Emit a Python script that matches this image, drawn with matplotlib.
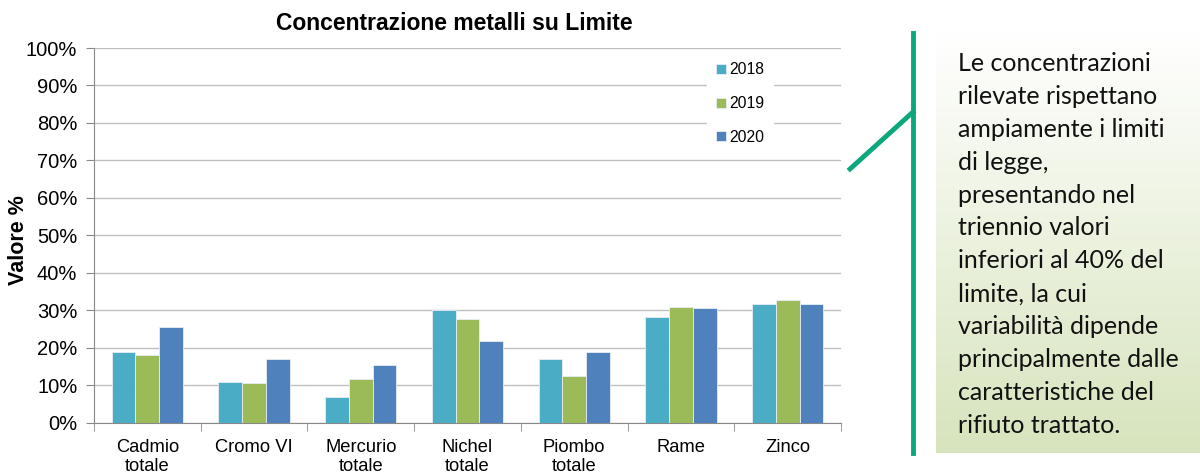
import numpy as np
import matplotlib.pyplot as plt
from matplotlib.ticker import PercentFormatter
from matplotlib.lines import Line2D

categories = ['Cadmio\ntotale', 'Cromo VI', 'Mercurio\ntotale', 'Nichel\ntotale',
              'Piombo\ntotale', 'Rame', 'Zinco']
years = ['2018', '2019', '2020']
v2018 = [18.8, 10.8, 6.9, 30.0, 17.0, 28.3, 31.8]
v2019 = [18.1, 10.5, 11.6, 27.7, 12.4, 31.0, 32.7]
v2020 = [25.5, 17.1, 15.3, 21.9, 18.8, 30.6, 31.6]
colors = ['#4BACC6', '#9BBB59', '#4F81BD']
note = ("Le concentrazioni\nrilevate rispettano\nampiamente i limiti\ndi legge,\n"
        "presentando nel\ntriennio valori\ninferiori al 40% del\nlimite, la cui\n"
        "variabilità dipende\nprincipalmente dalle\ncaratteristiche del\nrifiuto trattato.")

plt.rcParams['font.family'] = ['Liberation Sans', 'DejaVu Sans']
fig = plt.figure(figsize=(12, 4.72), dpi=100)
ax = fig.add_axes([94/1200, 1-422.7/472, (841-94)/1200, (422.7-48)/472])

x = np.arange(len(categories))
w = 0.223
for i, (vals, c, y) in enumerate(zip([v2018, v2019, v2020], colors, years)):
    ax.bar(x + (i-1)*w, vals, w, color=c, edgecolor='#E8EEF4', linewidth=0.6, label=y, zorder=3)

ax.set_xlim(-0.5, len(categories)-0.5)
ax.set_ylim(0, 100)
ax.set_yticks(np.arange(0, 101, 10))
ax.yaxis.set_major_formatter(PercentFormatter(decimals=0))
ax.grid(axis='y', color='#C0C0C0', linewidth=1, zorder=0)
ax.set_xticks(x)
ax.set_xticklabels(categories, fontsize=13.2, linespacing=1.1)
ax.set_xticks(np.arange(-0.5, len(categories)), minor=True)
ax.tick_params(axis='x', which='major', length=0, pad=12)
ax.tick_params(axis='x', which='minor', length=6, color='#888888', direction='out')
ax.tick_params(axis='y', length=6, color='#888888', labelsize=14.5, pad=6)
for s in ['top', 'right']:
    ax.spines[s].set_visible(False)
ax.spines['left'].set_color('#888888')
ax.spines['bottom'].set_color('#888888')
ax.set_ylabel('Valore %', fontsize=15.5, fontweight='bold', va='center')
ax.yaxis.set_label_coords((19-94)/747, (422.7-240)/374.7)
fig.text(454/1200, 1-24/472, 'Concentrazione metalli su Limite', fontsize=16.5,
         fontweight='bold', ha='center', va='center')

leg = ax.legend(loc='upper left', bbox_to_anchor=(0.81, 1.008), frameon=True, fontsize=11.3,
                handlelength=0.6, handleheight=0.6, handletextpad=0.2, labelspacing=1.2,
                borderpad=0.6, fancybox=False)
leg.get_frame().set_edgecolor('white')
leg.get_frame().set_facecolor('white')
leg.get_frame().set_alpha(1)

# pannello con gradiente
pax = fig.add_axes([936/1200, 1-453/472, (1200-936)/1200, (453-33)/472])
top = np.array([1.0, 1.0, 1.0])
bot = np.array([0xD7, 0xE4, 0xBD]) / 255
t = np.linspace(0, 1, 256)[:, None]
grad = (top + (bot - top) * t)[:, None, :]
pax.imshow(grad, aspect='auto', extent=[0, 1, 0, 1], origin='upper')
pax.set_axis_off()
fig.text(958/1200, 1-52/472, note, fontsize=18, family=['Lato', 'DejaVu Sans'],
         va='top', ha='left', linespacing=1.52, color='#111111')

green = '#0AA87B'
fig.add_artist(Line2D([913/1200, 913/1200], [1-33/472, 1-453/472], color=green, lw=3.5))
fig.add_artist(Line2D([850/1200, 913/1200], [1-169/472, 1-112/472], color=green, lw=3.5))

fig.savefig('out.png', dpi=100)
